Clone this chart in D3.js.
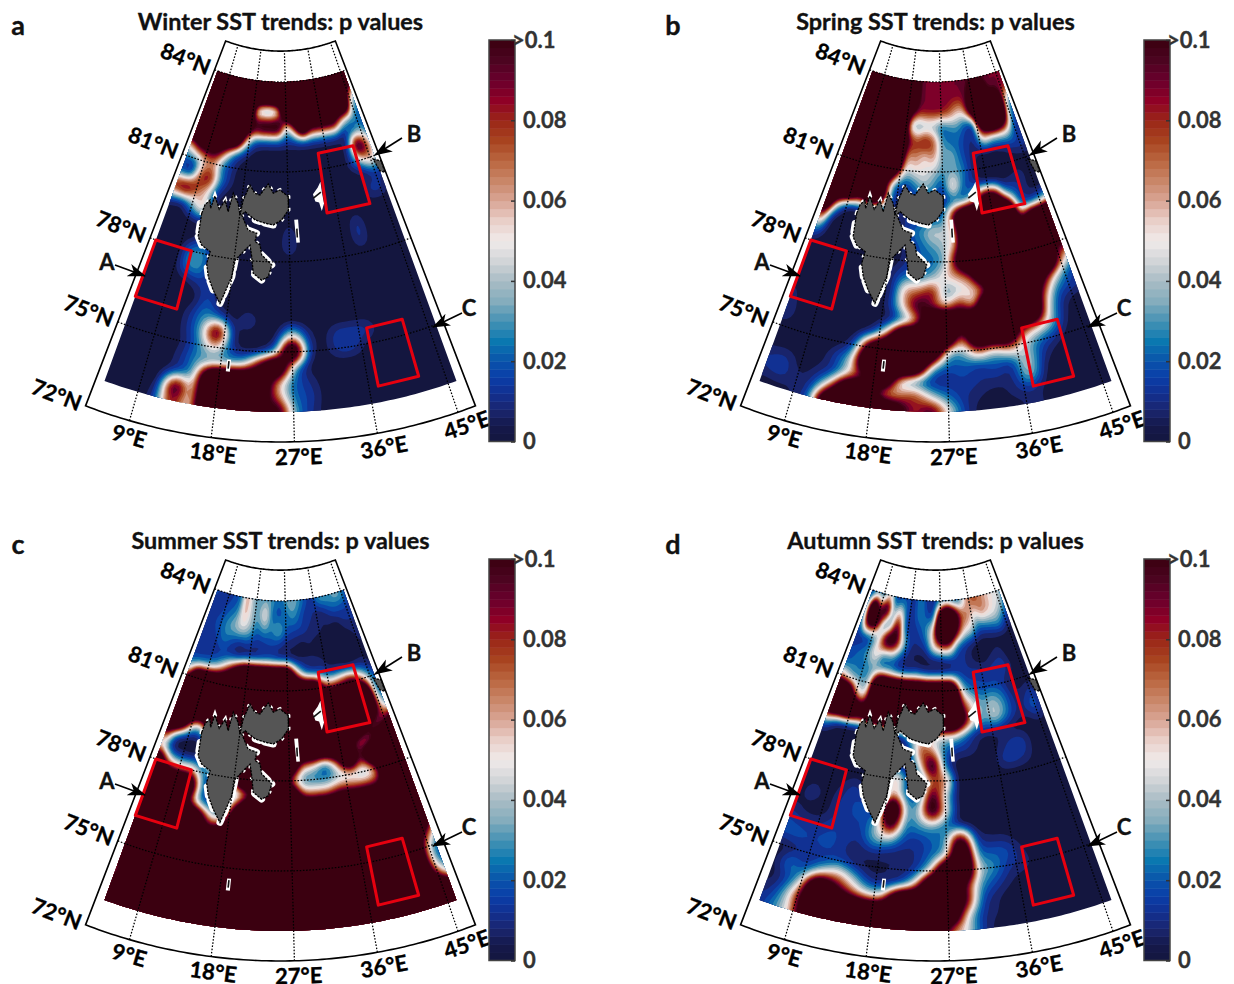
<!DOCTYPE html>
<html>
<head>
<meta charset="utf-8">
<script src="https://cdn.jsdelivr.net/npm/d3@7"></script>
<style>
  html, body { margin: 0; background: #fff; }
  svg { display: block; }
  text { font-family: Lato, "Open Sans", sans-serif; font-weight: 700; stroke-width: 0.35px; }
</style>
</head>
<body>
<svg width="1234" height="984"></svg>
<script>
// p values x 100, one row per latitude (84N down to 73N), one column per longitude (5E to 47E).
// Anything above 10 is just ">0.1" on the colorbar.
const lons = d3.range(5, 48, 2);
const lats = d3.range(84, 72.5, -0.5);

const winterP = [
  [20,20,20,20,20, 20,20,20,20,20, 20,20,20,20,20, 20,20,20,20,20, 20,20],
  [20,20,20,20,20, 20,20,20,20,20, 20,20,20,20,20, 20,20,20,20,20, 10,8],
  [20,20,20,20,20, 20,20,3,0,0, 3,20,20,20,20, 20,20,20,20,20, 3,3],
  [20,20,20,20,20, 20,16,12,14,14, 14,3,9,20,12, 12,12,12,6,3, 2,2],
  [20,20,20,20,20, 20,7,2,1,1, 1,1,1,1,1, 1,1,1,0,1, 3,1],
  [6,11,12,12,7, 2,1,0,0,0, 0,0,0,0,0, 0,0,0,1,14, 9,3],
  [2,2,5,6,2, 1,0,0,0,0, 0,0,0,0,0, 0,0,0,1.5,4, 7,3],
  [1,0,8,10,3, 1,0,0,0,0, 0,0,0,0,0, 0,0,0,0,0, 1,1],
  [10,12,8,5,1, 0,0,0,0,0, 0,0,0,0,0, 0,0,0,0,1.5, 1.5,0],
  [1,0,3,7,0, 0,0,0,0,0, 0,0,0,0,0, 0,0,0,0,0, 0,0],
  [0,0,0,0,0, 0,0,0,0,0, 0,1,0,0,0, 0,0,1.5,0,0, 0,0],
  [0,0,0,0,1.5, 0,0,0,0,0, 0,1.5,0,0,0, 0,0,1.5,0,0, 0,0],
  [0,0,0,3,3, 0,0,0,0,0, 0,0,0,0,0, 0,0,0,0,0, 0,0],
  [0,0,0,3,3, 0,0,0,1,0, 0,0,0,0,0, 0,0,0,0,0, 0,0],
  [0,0,0,0,1, 1.5,0,0,0,0, 0,0,0,0,0, 0,0,0,0,0, 0,0],
  [0,0,0,0,0, 2,0,0,0,0, 0,0,0,0,0, 0,0,0,0,0, 0,0],
  [0,0,0,0,1, 3,1.5,0,1.5,0, 0,0,0,0,0, 0,0,0,0,0, 0,0],
  [0,0,0,0,1, 3.5,14,0.5,0,0, 0,6,1,0,1.5, 1.5,1.5,0,0,0, 0,0],
  [0,0,0,0,0.5, 2.5,6,1,0,0, 2,20,1,0,1.5, 1.5,0,0,0,0, 0,0],
  [0,0,0,0,1, 3,2,3,4,12, 20,3,0,0,0, 0,0,0,0,0, 0,0],
  [0,0,0,0,1, 3,20,20,20,16, 6,2,1,0,0, 0,0,0,0,0, 0,0],
  [0,0,0,0,14, 3,20,20,20,14, 7,2,1.5,0,0, 0,0,0,0,0, 0,0],
  [0,0,0,1,10, 3,20,20,20,8, 14,3,1,0,0, 0,0,0,0,0, 0,0]
];

const springP = [
  [20,20,20,20,20, 20,20,20,9,9, 9,9,9,9,9, 9,9,9,9,9, 9,9],
  [20,20,20,20,20, 20,20,20,9,9, 9,9,9,9,9, 10,20,20,9,9, 9,9],
  [20,20,20,20,20, 20,20,12,9,9, 9,9,8,6,6, 14,20,20,20,20, 4,2],
  [20,20,20,20,20, 20,20,4,2,3, 3,1.5,2.5,3,1.5, 0.5,14,20,20,14, 2,1],
  [20,20,20,20,20, 20,20,10,8,10, 8,3,2,2,1, 1,6,4,4,4, 1,1],
  [20,20,20,20,20, 20,20,6,7,5, 7,3,4,2,1, 0.5,0,0,0.5,1, 1.5,1],
  [20,20,20,20,20, 20,14,4,5,5, 4,3,3,3,1, 0,0,0,0,0, 0,0],
  [20,20,20,20,20, 12,2,1,2,4, 3,1,7,2,1, 0,0,0,0.5,1, 0,0],
  [20,20,20,12,20, 14,1,1,1,1, 1,1,1,1,5, 14,14,3,2,0.5, 0,0],
  [20,6,0,0,0, 0,0,1,1,1, 1,2,12,20,20, 20,20,20,2,1, 2,5],
  [10,0,0,0,0, 0,0,0,2,3, 5,4,6,20,20, 20,20,20,10,20, 20,20],
  [3,0,0,0,0, 0,0,0,1,2, 3,4,6,20,20, 20,20,20,20,20, 20,20],
  [0,0,0,0,0, 0,0,0,1,2, 2,3,12,20,20, 20,20,20,20,20, 9,14],
  [0,0,0,0,0, 0,0,1,2,2, 3,6,6,8,20, 20,20,20,20,20, 8,3],
  [0,0,0,0,0, 0,0,0.5,7,7, 10,2,4,5,6, 20,20,20,14,6, 2,1],
  [0.5,0,0,0,0, 0,0,1,6,12, 8,5,10,4,20, 20,20,20,8,2, 1.5,1],
  [1,0,0,0,0, 0,0,0,1.5,5, 20,20,14,20,20, 20,20,20,5,1, 0,0],
  [1.5,0,0,0,0, 0,0.5,6,20,20, 20,20,5,20,20, 20,8,6,4,0.5, 0,0],
  [0,0,0,0,0, 1,14,20,20,20, 20,3,3,8,4, 8,4,2,1,0, 0,0],
  [0,0,0,0,1.5, 4,20,20,20,20, 3,1.5,2,1,2, 1,5,1,0,0, 0,0],
  [1,1.5,0,0.5,1, 5,8,20,4,1, 0.5,1,1.5,1,1, 0.5,5,0,0,0, 0,0],
  [1,1.5,0.5,1,6, 20,20,4,6,9, 4,2,1,0.5,0, 1,1,0,0,0, 0,0],
  [0,0,0.5,1.5,20, 20,20,20,14,7, 12,5,1,0,0, 0,1,0,0,0, 0,0]
];

const summerP = [
  [2,1,1,1.5,2, 7,3.5,3,3,3, 2,3,4,3,2, 1,3,3.5,3,4, 3,1],
  [1,1,1.5,2,2.5, 6.5,4,3,6,2, 1.5,2,3,2,1, 1,0.5,1,2,1.5, 1.5,1],
  [1,1.5,2,3,4, 5,4,2,3,2.5, 4,2,1.5,1.5,1, 1,0.5,0.5,0,1, 1,1],
  [1,1,1.5,2.5,1.5, 1,1.5,1,1,1.5, 1,0.5,0.5,0,0.5, 0,0,0,0,0, 0.5,1],
  [1,1,1,1,1, 0,0,0.5,1,1, 0.5,0.5,0,0.5,0.5, 0.5,0,0,0,0, 0.5,0],
  [2,2,2.5,4,8, 14,20,20,20,20, 20,20,8,2,1, 1.5,0.5,0.5,0,0.5, 0.5,0],
  [6,20,20,20,20, 20,20,20,20,20, 20,20,20,20,20, 8,8,10,12,7, 3,1],
  [20,20,20,20,20, 20,20,20,20,20, 20,20,20,20,20, 20,20,20,20,20, 3,1],
  [20,20,20,20,20, 20,20,20,20,20, 20,20,20,20,20, 20,20,20,20,20, 5,2],
  [20,20,5,3,20, 20,20,20,20,20, 20,20,20,20,20, 20,20,20,14,6, 8,14],
  [10,0.5,0,0,1, 20,20,20,20,20, 20,20,20,20,20, 20,14,7,5,14, 20,20],
  [4,0,0,0,1, 20,20,20,20,20, 20,20,6,5,1, 7,20,8,20,20, 20,20],
  [20,7,5,6,2, 1,1,20,20,20, 20,6,2,2,2, 3,3,2,5,20, 20,20],
  [20,20,20,20,2, 1,1,2,8,20, 20,20,7,7,7, 10,9,9,9,20, 20,20],
  [20,20,20,12,2, 1,1,12,20,20, 20,20,20,20,20, 20,20,20,20,20, 20,20],
  [20,20,20,20,20, 6,5,20,20,20, 20,20,20,20,20, 20,20,20,20,20, 20,20],
  [20,20,20,20,20, 14,20,20,20,20, 20,20,20,20,20, 20,20,20,20,20, 20,8],
  [20,20,20,20,20, 20,20,20,20,20, 20,20,20,20,20, 20,20,20,20,20, 10,2],
  [20,20,20,20,20, 20,20,20,20,20, 20,20,20,20,20, 20,20,20,20,20, 3,1],
  [10,20,20,20,20, 20,20,20,20,20, 20,20,20,20,20, 20,20,20,20,20, 3,1],
  [4,20,20,20,20, 20,20,20,20,20, 20,20,20,20,20, 20,20,20,20,20, 8,2],
  [20,20,20,20,20, 20,20,20,20,20, 20,20,20,20,20, 20,20,20,20,20, 20,14],
  [20,20,20,20,20, 20,20,20,20,20, 20,20,20,20,20, 20,20,20,20,20, 20,20]
];

const autumnP = [
  [1,1,1,5,1, 1,2,1,3,1, 1,1,1,0.5,1.5, 6,8,7,6,5, 5,3],
  [2,18,8,14,3, 6,1.5,1,3,1.5, 1,14,20,14,8, 7,5,7,6,5, 4,1],
  [1,14,14,2,2, 12,1.5,1,1.5,3, 6,20,20,12,6, 5,2,2,2.5,3, 1,0.5],
  [1,0.5,1,5,14, 12,5,1,1,1.5, 6,8,8,2,1, 0.5,0,0,0,0, 0,0],
  [1.5,2,3,6,1.5, 2.5,1,0.5,0,0, 0,0,0.5,1,1, 0,0,0.5,1,0, 0,0],
  [1.5,2.5,2,3,2.5, 2,1,1,2,1, 1,1,1,1.5,1, 1.5,1,1.5,1.5,0.5, 0,0],
  [6,3,3,3,20, 20,20,20,20,20, 20,20,20,4,2, 1.5,1.5,1.5,0.5,0, 0,0],
  [20,20,6,4,20, 20,20,20,20,20, 20,20,20,8,5, 3,4,3,1,0.5, 1.5,0.5],
  [20,20,20,14,20, 20,20,20,20,20, 20,20,20,12,5, 3,5,3,1,1, 2.5,0],
  [4,0.5,0,0,0, 0,0,0,4,4, 4,4,4,2,0.5, 0.5,0.5,0,0,0, 0.5,0],
  [0,0,0,0,0, 0,0,0,1,9, 6,2,1,1,0.5, 0,0.5,1.5,1.5,0, 0,0],
  [0,0,0,0,0, 0,0,0,0,5, 14,1.5,0,0,0, 0,1.5,1.5,1,0, 0,0],
  [0,0,0,0,0, 0,0,8,1,1, 7,8,0,0,0, 0,0,0,0,0, 0,0],
  [0,0,0,0.5,1.5, 0,0,6,1.5,1, 12,4,0,0,0, 0,0,0,0,0, 0,0],
  [0,1.5,0,1,1.5, 2,0,20,3,3.5, 14,5,0,0,0, 0,0,0,0,0, 0,0],
  [0.5,0,0,1,1.5, 1.5,3,14,2,3, 3,2,0,0,0, 0,0,0,0,0, 0,0],
  [1.5,1,1,1.5,1.5, 1,4,4,1.5,1, 2,2.5,14,1,0.5, 0.5,0,0,0,0, 0,0],
  [2,2,1.5,2,1, 0.5,1,0.5,0.5,1, 2,3,20,2,2, 2,0.5,0,0,0, 0,0],
  [0,0.5,1,1,1.5, 0.5,0,0.5,0.5,1, 4,20,20,4,3, 1,1,0,0,0, 0,0],
  [0,3,1,4,7, 4,1,0.5,1,5, 20,20,10,3,1.5, 0.5,0,0,0,0, 0,0],
  [0,1,4,20,12, 8,5,5,20,20, 20,20,12,1.5,0.5, 0,0,0,0,0, 0,0],
  [0.5,2,8,20,20, 20,20,20,20,20, 20,20,5,1,0.5, 0,0,0,0,0, 0,0],
  [1,3,6,20,20, 20,20,20,20,20, 20,6,5,1,0, 0,0,0,0,0, 0,0]
];

// Svalbard and the small islands, [lon, lat]
const svalbard = [
  [11.14,79.3],[11.35,79.6],[12.05,79.8],[12.5,79.53],[12.8,79.96],[14.1,79.56],[14.9,79.88],[15.8,79.53],
  [16.2,80.17],[17.4,79.86],[18.05,79.48],[18.3,79.99],[19.3,80.51],[20.4,80.25],[21.45,80.21],[23,80.59],
  [24.07,80.29],[25.4,80.4],[27.05,80.17],[27,79.73],[25.7,79.4],[24.2,79.23],[22.7,79.28],[20.9,79.37],
  [18.9,79.61],[18.35,79.49],[19.8,79.01],[21.35,78.93],[21.15,78.65],[22.05,78.55],[22.4,78.22],[24.1,77.9],
  [23.6,77.5],[22.6,77.38],[21.25,77.59],[20.8,78.14],[20.36,78.52],[19.6,78.34],[18.2,77.97],[18,77.41],
  [16.8,76.47],[15.5,76.88],[14.45,77.28],[13.8,77.71],[14,78.11],[12.4,78.27],[11.5,78.52],[11.3,78.96]
];
// parts of the coast where the SST field has gaps, as index ranges into svalbard
const coastGaps = [[21,24],[26,28],[30,32],[33,35],[38,41],[41,44],[45,48]];
const kvitoya = [[45.5,80.9],[47,80.75],[46.8,80.35],[46,80.45]];
const kongKarl = [[33.7,80.58],[33,80.4],[31.9,80.2],[32.2,79.95],[32.9,79.9],[33.2,79.61],[33.8,79.85],[33.7,80.2]];
const hopen = [[28,79.4],[28.7,79.4],[28.8,78.63],[28.2,78.63]];
const bearIsland = [[18.75,74.65],[19.25,74.65],[19.25,74.25],[18.75,74.25]];
const islandStrokes = [
  [[31.9,80.07],[33.5,80.24]],
  [[28.4,79.1],[28.4,78.8]],
  [[19,74.6],[19,74.35]]
];

// study boxes [lon0, lon1, lat0, lat1]
const boxes = [[5,11,76,78],[34.1,42.2,79.52,81.53],[37.1,42,73.54,75.52]];

const latTicks = [72,75,78,81,84];
const lonTicks = [9,18,27,36,45];
const cbarTicks = [0,0.02,0.04,0.06,0.08,0.1];

const panels = [
  {letter:'a', title:'Winter SST trends: p values', p:winterP, dx:0, dy:0},
  {letter:'b', title:'Spring SST trends: p values', p:springP, dx:655, dy:0},
  {letter:'c', title:'Summer SST trends: p values', p:summerP, dx:0, dy:519},
  {letter:'d', title:'Autumn SST trends: p values', p:autumnP, dx:655, dy:519}
];

const colorStops = [0,.004,.008,.012,.016,.02,.025,.03,.035,.04,.045,.05,.055,.06,.065,.07,.075,.08,.085,.09,.095,.1];
const colorVals = ['#14163f','#15194b','#1a2670','#122f90','#0a3ea8','#0a52aa','#0a78b0','#4592b4','#85adbd','#a9bcc5',
  '#d2d5d8','#f0eaea','#e9cfc8','#d9a595','#c98668','#ba663f','#a8431f','#9a2618','#8f0026','#6a002c','#4c0420','#3b0010'];
const color = d3.scaleLinear().domain(colorStops).range(colorVals).clamp(true);

const svg = d3.select('svg');

// conic projection, all panels share it, each one only gets translated
const thetaScale = d3.scaleLinear().domain([4,47]).range([-21,21]);
const rScale = d3.scaleLinear().domain([72,84]).range([544,184]);
const apex = [280.5,-102];
const project = (lon, lat) => {
  const t = thetaScale(lon) * Math.PI / 180;
  const r = rScale(lat);
  return [apex[0] + r * Math.sin(t), apex[1] + r * Math.cos(t)];
};
const line = d3.line();
const lonLine = (lon, lat0, lat1) => line(d3.range(lat0, lat1 + 0.01, 0.5).map(la => project(lon, la)));
const latPts = (lat, lon0, lon1) => d3.range(lon0, lon1 + 0.01, 0.5).map(lo => project(lo, lat));
const coastLine = pts => line(pts.map(d => project(d[0], d[1])));

// the eye-read grid is coarse: refine it before contouring so the fills come out round like the original
const refine = 4;
const fineW = (lons.length - 1) * refine + 1;
const fineH = (lats.length - 1) * refine + 1;
function fineField(rows) {
  const out = new Float64Array(fineW * fineH);
  for (let j = 0; j < fineH; j++) {
    const fy = j / refine, y0 = Math.min(Math.floor(fy), lats.length - 2), ty = fy - y0;
    for (let i = 0; i < fineW; i++) {
      const fx = i / refine, x0 = Math.min(Math.floor(fx), lons.length - 2), tx = fx - x0;
      out[j * fineW + i] = (1 - ty) * ((1 - tx) * rows[y0][x0] + tx * rows[y0][x0 + 1])
        + ty * ((1 - tx) * rows[y0 + 1][x0] + tx * rows[y0 + 1][x0 + 1]);
    }
  }
  d3.blur2({data: out, width: fineW, height: fineH}, 1);
  return out;
}

const gridToMap = d3.geoPath(d3.geoTransform({
  point(x, y) {
    const p = project(lons[0] + (x - 0.5) / refine * 2, lats[0] - (y - 0.5) / refine * 0.5);
    this.stream.point(p[0], p[1]);
  }
}));

// first level sits below zero: the blur leaves tiny negative rounding errors
const levels = [-1].concat(d3.range(0.5, 10.01, 0.5));
const contours = d3.contours().size([fineW, fineH]).thresholds(levels);

const defs = svg.append('defs');
const dataEdge = latPts(84,5,46).concat(latPts(73,5,46).reverse());
defs.append('clipPath').attr('id','dataClip').append('path').attr('d', line(dataEdge) + 'Z');
defs.append('marker').attr('id','arrowHead')
  .attr('markerUnits','userSpaceOnUse')
  .attr('viewBox','0 -7 18 14').attr('refX',17).attr('refY',0)
  .attr('markerWidth',18).attr('markerHeight',14).attr('orient','auto')
  .append('path').attr('d','M0,-6.5L18,0L0,6.5L5,0Z').attr('fill','#000');

const arrows = [
  {label:'A', from:[115,265], to:[145,276], at:[107,262]},
  {label:'B', from:[402,138], to:[375,155], at:[414,134]},
  {label:'C', from:[462,313], to:[433,327], at:[469,308]}
];

const cbarY = d3.scaleLinear().domain([0,0.1]).range([441.5,40]);

panels.forEach(panel => {
  const g = svg.append('g').attr('transform', `translate(${panel.dx},${panel.dy})`);

  g.append('text').attr('x',18).attr('y',35).attr('text-anchor','middle')
    .attr('font-size',27).attr('fill','#111').text(panel.letter);
  g.append('text').attr('x',280.5).attr('y',30).attr('text-anchor','middle')
    .attr('font-size',23.4).attr('fill','#111').text(panel.title);

  g.append('g').attr('clip-path','url(#dataClip)')
    .selectAll('path').data(contours(fineField(panel.p))).join('path')
    .attr('d', gridToMap)
    .attr('fill', d => color((d.value + 0.25) / 100));

  // land
  const land = g.append('g');
  land.append('path').attr('d', coastLine(svalbard) + 'Z')
    .attr('fill','none').attr('stroke','#fff').attr('stroke-width',4).attr('stroke-dasharray','3 9');
  coastGaps.forEach(r => {
    land.append('path').attr('d', coastLine(svalbard.slice(r[0], r[1])))
      .attr('fill','none').attr('stroke','#fff').attr('stroke-width',7)
      .attr('stroke-dasharray','9 5').attr('stroke-linecap','round');
  });
  [kongKarl, hopen, bearIsland].forEach(isl => {
    land.append('path').attr('d', coastLine(isl) + 'Z').attr('fill','#fff');
  });
  islandStrokes.forEach(s => {
    land.append('path').attr('d', coastLine(s))
      .attr('stroke','#111').attr('stroke-width',1.6).attr('fill','none');
  });
  [svalbard, kvitoya].forEach(isl => {
    land.append('path').attr('d', coastLine(isl) + 'Z')
      .attr('fill','#555').attr('stroke','#000').attr('stroke-width',1.3).attr('stroke-dasharray','2.5 1');
  });

  // graticule
  const grat = g.append('g').attr('fill','none').attr('stroke','#000')
    .attr('stroke-width',1.25).attr('stroke-dasharray','1.6 1.6');
  lonTicks.forEach(lo => grat.append('path').attr('d', lonLine(lo,72,85)));
  latTicks.filter(la => la > 72).forEach(la => grat.append('path').attr('d', line(latPts(la,4,47))));

  // frame
  const frame = latPts(72,4,47).concat(latPts(85.03,4,47).reverse());
  g.append('path').attr('d', line(frame) + 'Z').attr('fill','none').attr('stroke','#000').attr('stroke-width',1.6);

  // red boxes
  boxes.forEach(b => {
    const corners = [[b[0],b[3]],[b[1],b[3]],[b[1],b[2]],[b[0],b[2]]].map(d => project(d[0], d[1]));
    g.append('path').attr('d', line(corners) + 'Z').attr('fill','none')
      .attr('stroke','#e6000f').attr('stroke-width',3).attr('stroke-linejoin','round');
  });

  // tick labels
  latTicks.forEach(la => {
    const p = project(4, la);
    g.append('text').attr('transform', `translate(${p[0]},${p[1]}) rotate(21) translate(-31,0)`)
      .attr('text-anchor','middle').attr('dy','0.36em').attr('font-size',22).attr('fill','#000')
      .text(`${la}°N`);
  });
  lonTicks.forEach(lo => {
    const p = project(lo, 72);
    g.append('text').attr('transform', `translate(${p[0]},${p[1]}) rotate(${-thetaScale(lo)}) translate(4,15)`)
      .attr('text-anchor','middle').attr('dy','0.36em').attr('font-size',22).attr('fill','#000')
      .text(`${lo}°E`);
  });

  // A, B, C arrows
  arrows.forEach(a => {
    g.append('line').attr('x1',a.from[0]).attr('y1',a.from[1]).attr('x2',a.to[0]).attr('y2',a.to[1])
      .attr('stroke','#000').attr('stroke-width',1.6).attr('marker-end','url(#arrowHead)');
    g.append('text').attr('x',a.at[0]).attr('y',a.at[1]).attr('dy','0.36em').attr('text-anchor','middle')
      .attr('font-size',22).attr('fill','#111').text(a.label);
  });

  // colorbar
  const cbar = g.append('g').attr('transform','translate(489,0)');
  const steps = d3.range(0, 0.1, 0.002);
  cbar.selectAll('rect').data(steps).join('rect')
    .attr('x',0).attr('width',26)
    .attr('y', d => cbarY(d + 0.002))
    .attr('height', d => cbarY(d) - cbarY(d + 0.002) + 0.5)
    .attr('fill', d => color(d + 0.001));
  cbar.append('rect').attr('x',0).attr('y',cbarY(0.1)).attr('width',26).attr('height',cbarY(0) - cbarY(0.1))
    .attr('fill','none').attr('stroke','#444').attr('stroke-width',1.5);
  const cbarAxis = d3.axisRight(cbarY).tickValues(cbarTicks).tickSize(-4).tickPadding(0)
    .tickFormat(d => d === 0.1 ? '>0.1' : d);
  const axisG = cbar.append('g').attr('transform','translate(26,0)').call(cbarAxis);
  axisG.select('.domain').remove();
  axisG.selectAll('.tick line').attr('stroke','#333').attr('stroke-width',1.5);
  axisG.selectAll('.tick text')
    .attr('x', d => d === 0.1 ? -3 : 8)
    .attr('font-size',22).attr('fill','#333').attr('font-family','Lato, sans-serif');
});

svg.selectAll('text').attr('stroke', function() { return d3.select(this).attr('fill'); });
</script>
</body>
</html>
